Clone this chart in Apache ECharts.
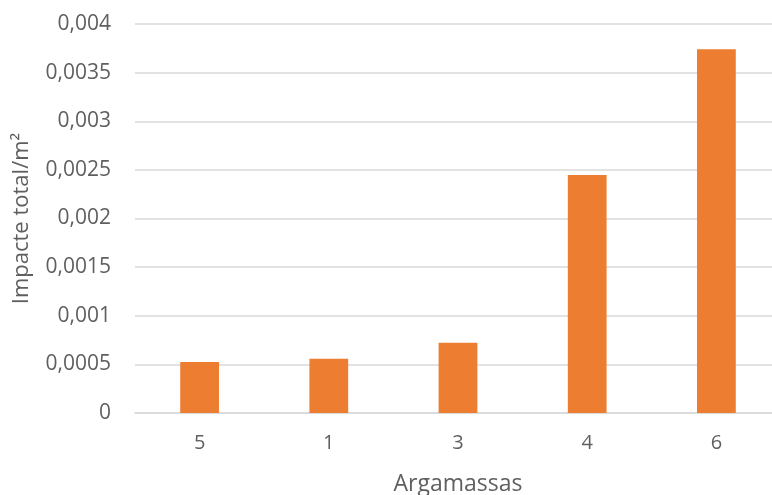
<!DOCTYPE html>
<html>
<head>
<meta charset="utf-8">
<script src="https://cdn.jsdelivr.net/npm/echarts@6/dist/echarts.min.js"></script>
<style>
  html, body { margin: 0; padding: 0; background: #ffffff; }
  #chart { width: 772px; height: 495px; }
</style>
</head>
<body>
<div id="chart"></div>
<script>
// Mortar samples (argamassas) and their total impact per square metre
const categories = ['5', '1', '3', '4', '6'];
const impactValues = [0.000524, 0.000557, 0.000722, 0.002447, 0.00374];
const yTicks = [0, 0.0005, 0.001, 0.0015, 0.002, 0.0025, 0.003, 0.0035, 0.004];

const fontFamily = '"Open Sans", "Noto Sans", sans-serif';
const textColor = '#5f5f5f';

const chart = echarts.init(document.getElementById('chart'), null, { renderer: 'canvas' });

chart.setOption({
  animation: false,
  backgroundColor: '#ffffff',
  grid: {
    left: 135, right: -9, top: 24, bottom: 82,
    containLabel: false,
    outerBoundsMode: 'none'
  },
  xAxis: {
    type: 'category',
    data: categories,
    name: 'Argamassas',
    nameLocation: 'middle',
    nameGap: 60,
    nameTextStyle: { color: textColor, fontSize: 23, fontFamily: fontFamily },
    axisLine: { show: true, lineStyle: { color: '#d9d9d9', width: 1.5 } },
    axisTick: { show: false },
    axisLabel: { color: textColor, fontSize: 20, fontFamily: fontFamily, margin: 20 }
  },
  yAxis: {
    type: 'value',
    min: yTicks[0],
    max: yTicks[yTicks.length - 1],
    interval: yTicks[1] - yTicks[0],
    name: 'Impacte total/m²',
    nameLocation: 'middle',
    nameGap: 102,
    nameTextStyle: { color: textColor, fontSize: 22, fontFamily: fontFamily },
    axisLine: { show: false },
    axisTick: { show: false },
    splitLine: { lineStyle: { color: '#d9d9d9', width: 1.5 } },
    axisLabel: {
      color: textColor,
      fontSize: 21,
      fontFamily: fontFamily,
      margin: 24,
      formatter: function (v) {
        const match = yTicks.find(t => Math.abs(t - v) < 1e-9);
        const val = match !== undefined ? match : v;
        return String(Number(val.toPrecision(6))).replace('.', ',');
      }
    }
  },
  series: [{
    type: 'bar',
    data: impactValues,
    barWidth: '30%',
    itemStyle: { color: '#ed7d31' }
  }]
});
</script>
</body>
</html>
